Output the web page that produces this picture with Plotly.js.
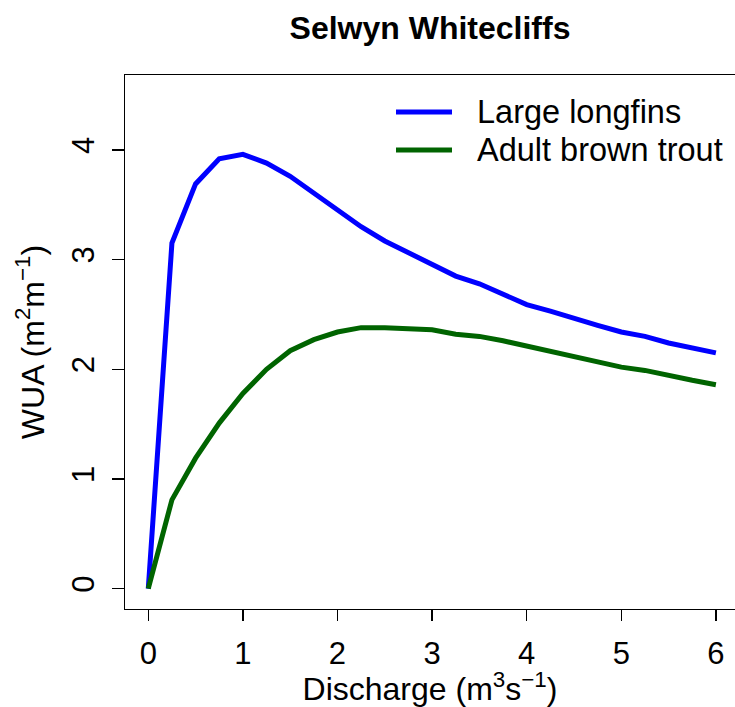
<!DOCTYPE html>
<html>
<head>
<meta charset="utf-8">
<script src="https://cdn.plot.ly/plotly-3.0.1.min.js"></script>
<style>html,body{margin:0;padding:0;background:#fff;}#chart{width:735px;height:707px;}</style>
</head>
<body>
<div id="chart"></div>
<script>
var discharge = [0, 0.25, 0.5, 0.75, 1.0, 1.25, 1.5, 1.75, 2.0, 2.25, 2.5, 2.75, 3.0, 3.25, 3.5, 3.75, 4.0, 4.25, 4.5, 4.75, 5.0, 5.25, 5.5, 5.75, 6.0];
var largeLongfins = [0, 3.15, 3.69, 3.92, 3.96, 3.88, 3.76, 3.61, 3.45, 3.30, 3.17, 3.06, 2.95, 2.85, 2.78, 2.68, 2.59, 2.53, 2.46, 2.40, 2.34, 2.30, 2.24, 2.20, 2.15];
var adultBrownTrout = [0, 0.81, 1.19, 1.51, 1.78, 2.00, 2.17, 2.27, 2.34, 2.38, 2.38, 2.37, 2.36, 2.32, 2.30, 2.26, 2.21, 2.17, 2.12, 2.07, 2.02, 1.99, 1.94, 1.90, 1.86];
var seriesNames = ["Large longfins", "Adult brown trout"];
var seriesColors = ["#0000ff", "#006400"];
var xTicks = [0, 1, 2, 3, 4, 5, 6];
var yTicks = [0, 1, 2, 3, 4];

var W = 735, H = 707, ML = 125, MR = 0, MT = 75, MB = 98;
var PW = W - ML - MR, PH = H - MT - MB;
function px(x){ return (x - ML) / PW; }
function py(y){ return (H - MB - y) / PH; }

var font = "Liberation Sans, Arial, Helvetica, sans-serif";
var traces = [
  {x: discharge, y: largeLongfins, name: seriesNames[0], type: "scatter", mode: "lines",
   line: {color: seriesColors[0], width: 5}},
  {x: discharge, y: adultBrownTrout, name: seriesNames[1], type: "scatter", mode: "lines",
   line: {color: seriesColors[1], width: 5}}
];

var shapes = [], annotations = [];
var legendRows = [112, 150];
for (var i = 0; i < seriesNames.length; i++) {
  shapes.push({type: "line", xref: "paper", yref: "paper",
    x0: px(396), x1: px(452), y0: py(legendRows[i]), y1: py(legendRows[i]),
    line: {color: seriesColors[i], width: 5}});
  annotations.push({xref: "paper", yref: "paper", x: px(475), y: py(legendRows[i]),
    xanchor: "left", yanchor: "middle", showarrow: false, text: seriesNames[i],
    font: {family: font, size: 32.5, color: "#000"}});
}

var layout = {
  width: W, height: H,
  margin: {l: ML, r: MR, t: MT, b: MB, pad: 0},
  paper_bgcolor: "#fff", plot_bgcolor: "#fff",
  showlegend: false,
  font: {family: font, color: "#000"},
  title: {text: "<b>Selwyn Whitecliffs</b>", x: 0.5, xref: "paper", xanchor: "center",
          y: 1 - 28 / H, yref: "container", yanchor: "middle",
          font: {family: font, size: 32, color: "#000"}},
  xaxis: {
    range: [-0.246, 6.202], tickvals: xTicks, ticktext: xTicks.map(String),
    ticks: "outside", ticklen: 11, tickwidth: 1.3, tickcolor: "#000",
    showline: true, linecolor: "#000", linewidth: 1.3, mirror: true,
    showgrid: false, zeroline: false,
    tickfont: {family: font, size: 31, color: "#000"}, ticklabelstandoff: 5,
    title: {text: "Discharge (m<sup>3</sup>s<sup>\u22121</sup>)", standoff: 2,
            font: {family: font, size: 32, color: "#000"}}
  },
  yaxis: {
    range: [-0.185, 4.683], tickvals: yTicks, ticktext: yTicks.map(String),
    ticks: "outside", ticklen: 12, tickwidth: 1.3, tickcolor: "#000",
    showline: true, linecolor: "#000", linewidth: 1.3, mirror: false,
    showgrid: false, zeroline: false, tickangle: -90,
    tickfont: {family: font, size: 31, color: "#000"}, ticklabelstandoff: 5,
    title: {text: "WUA (m<sup>2</sup>m<sup>\u22121</sup>)", standoff: 12,
            font: {family: font, size: 32, color: "#000"}}
  },
  shapes: shapes,
  annotations: annotations
};

Plotly.newPlot("chart", traces, layout, {displayModeBar: false, staticPlot: true});
</script>
</body>
</html>
